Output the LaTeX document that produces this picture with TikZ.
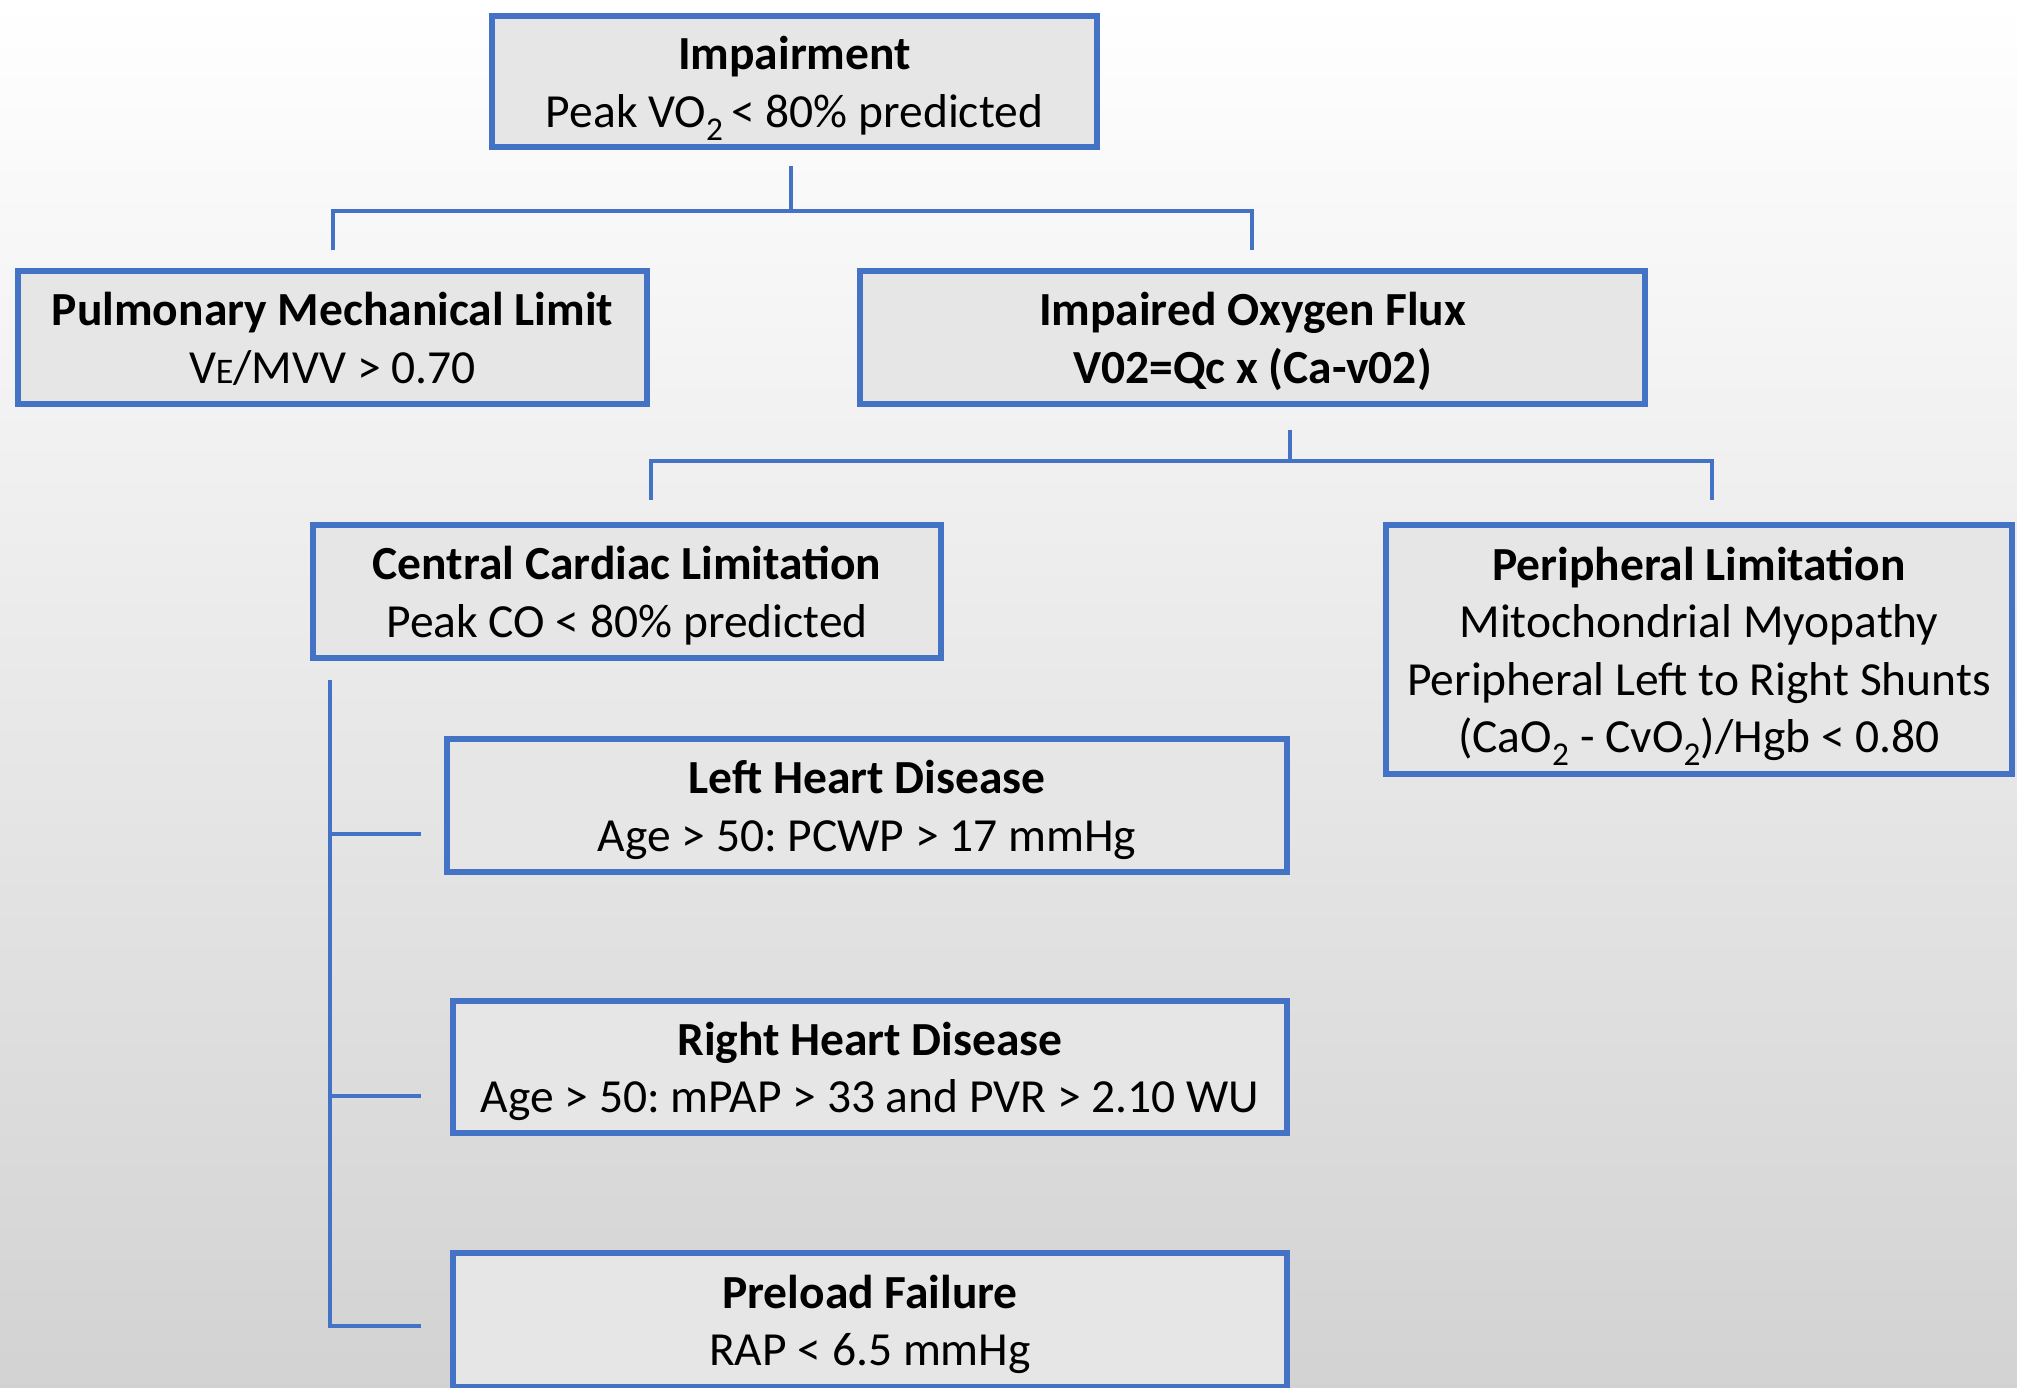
\documentclass[tikz,border=0pt]{standalone}
\usepackage{fontspec}
\setmainfont{Carlito}
\usetikzlibrary{calc}
\definecolor{bord}{HTML}{4472C4}
\definecolor{boxfill}{HTML}{E6E6E6}
\newcommand\tst{\rule{0pt}{48pt}}
\newcommand\bst{\rule[-14pt]{0pt}{14pt}}
\begin{document}
\frenchspacing
\begin{tikzpicture}[x=1pt,y=-1pt,
  box/.style={draw=bord, line width=6pt, fill=boxfill, align=center, inner sep=0pt, font=\fontsize{47.5}{57.5}\selectfont\frenchspacing},
  conn/.style={draw=bord, line width=3.3pt}]
\shade[top color=white, middle color=gray!8, bottom color=gray!35] (0,0) rectangle (2017,1387);
\useasboundingbox (0,0) rectangle (2017,1387);

\node[box, minimum width=605pt, minimum height=131pt] (imp) at (794.5,81.5)
  {\tst\textbf{Impairment}\\Peak VO\textsubscript{2}\,< 80\% predicted\bst};
\node[box, minimum width=629pt, minimum height=133pt] (pml) at (332.5,337.5)
  {\tst\textbf{Pulmonary Mechanical Limit}\\V{\fontsize{36}{36}\selectfont E}/MVV > 0.70\bst};
\node[box, minimum width=785pt, minimum height=133pt] (iof) at (1252.5,337.5)
  {\tst\textbf{Impaired Oxygen Flux}\\\textbf{V02=Qc x (Ca-v02)}\bst};
\node[box, minimum width=628pt, minimum height=133pt] (ccl) at (627,591.5)
  {\tst\textbf{Central Cardiac Limitation}\\Peak CO < 80\% predicted\bst};
\node[box, minimum width=626pt, minimum height=249pt] (per) at (1699,649.5)
  {\tst\textbf{Peripheral Limitation}\\Mitochondrial Myopathy\\Peripheral Left to Right Shunts\\(CaO\textsubscript{2} - CvO\textsubscript{2})/Hgb < 0.80\bst};
\node[box, minimum width=840pt, minimum height=133pt] (lhd) at (867,805.5)
  {\tst\textbf{Left Heart Disease}\\Age > 50: PCWP > 17 mmHg\bst};
\node[box, minimum width=834pt, minimum height=132pt] (rhd) at (870,1067)
  {\tst\textbf{Right Heart Disease}\\Age > 50: mPAP > 33 and PVR > 2.10 WU\bst};
\node[box, minimum width=834pt, minimum height=134pt] (pre) at (870,1320)
  {\tst\textbf{Preload Failure}\\RAP < 6.5 mmHg\bst};

% level 1 connectors
\draw[conn] ($(imp.south)+(-3.5,16)$) -- ++(0,45) coordinate (j1);
\draw[conn] ($(pml.north)+(0.5,-18)$) |- (j1) -| ($(iof.north)+(-0.5,-18)$);

% level 2 connectors
\draw[conn] ($(iof.south)+(37.5,23)$) -- ++(0,31) coordinate (j2);
\draw[conn] ($(ccl.north)+(24,-22)$) |- (j2) -| ($(per.north)+(13,-22)$);

% level 3 connectors
\coordinate (vtop) at ($(ccl.south west)+(20,19)$);
\coordinate (b1) at ($(lhd.west)+(-22.75,28.5)$);
\coordinate (b2) at ($(rhd.west)+(-28.75,29)$);
\coordinate (b3) at ($(pre.west)+(-28.75,6)$);
\draw[conn] (vtop) |- (b3);
\draw[conn] (vtop |- b1) -- (b1);
\draw[conn] (vtop |- b2) -- (b2);
\end{tikzpicture}
\end{document}
